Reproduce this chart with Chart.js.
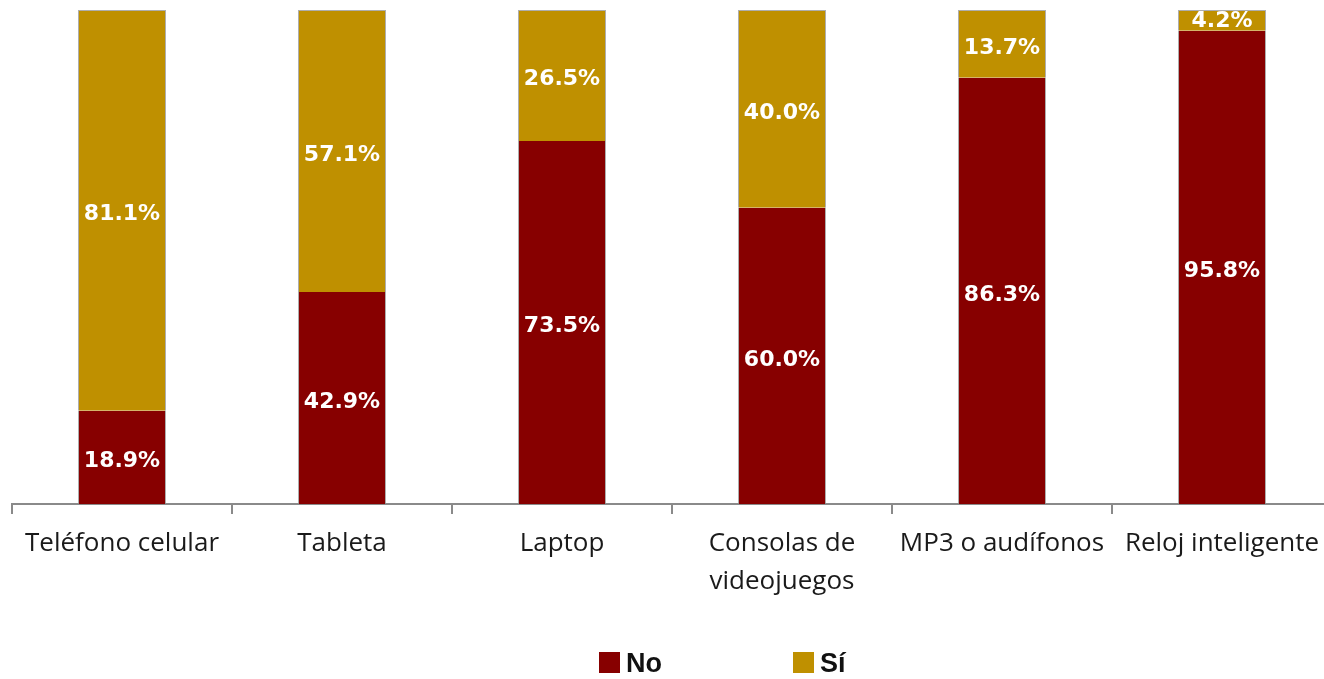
<!DOCTYPE html>
<html>
<head>
<meta charset="utf-8">
<script src="https://cdn.jsdelivr.net/npm/chart.js@4/dist/chart.umd.min.js"></script>
<style>
  html, body { margin: 0; padding: 0; background: #ffffff; overflow: hidden; width: 1324px; height: 679px; }
  #wrap { position: absolute; left: 0; top: 0; width: 1344px; height: 679px; }
  #legend { position: absolute; top: 648px; left: 599px; height: 30px; font-family: "Liberation Sans", Arial, sans-serif; font-weight: bold; font-size: 27px; color: #111; }
  .item { position: absolute; top: 0; white-space: nowrap; line-height: 30px; }
  .sw { position: absolute; top: 4px; left: 0; width: 21px; height: 21px; }
  .lt { position: absolute; left: 27px; top: 0; }
</style>
</head>
<body>
<div id="wrap"><canvas id="c"></canvas></div>
<div id="legend"></div>
<script>
const categories = ["Teléfono celular", "Tableta", "Laptop", ["Consolas de", "videojuegos"], "MP3 o audífonos", "Reloj inteligente"];
const seriesNames = ["No", "Sí"];
const noValues = [18.9, 42.9, 73.5, 60.0, 86.3, 95.8];
const siValues = [81.1, 57.1, 26.5, 40.0, 13.7, 4.2];
const colors = ["#870000", "#BF9000"];

// HTML legend
const legend = document.getElementById('legend');
const legendOffsets = [0, 194];
seriesNames.forEach((name, i) => {
  const it = document.createElement('div');
  it.className = 'item';
  it.style.left = legendOffsets[i] + 'px';
  const sw = document.createElement('div');
  sw.className = 'sw';
  sw.style.background = colors[i];
  const t = document.createElement('span');
  t.className = 'lt';
  t.textContent = name;
  it.appendChild(sw); it.appendChild(t);
  legend.appendChild(it);
});

const valueLabels = {
  id: 'valueLabels',
  afterDatasetsDraw(chart) {
    const ctx = chart.ctx;
    ctx.save();
    ctx.font = 'bold 22px "DejaVu Sans", Verdana, sans-serif';
    ctx.fillStyle = '#ffffff';
    ctx.textAlign = 'center';
    ctx.textBaseline = 'middle';
    chart.data.datasets.forEach((ds, di) => {
      const meta = chart.getDatasetMeta(di);
      meta.data.forEach((bar, i) => {
        const v = ds.data[i];
        const y = (bar.y + bar.base) / 2;
        const h = Math.abs(bar.base - bar.y);
        ctx.fillText(v.toFixed(1) + '%', bar.x, y + (h > 30 ? 4 : 1));
      });
    });
    ctx.restore();
  }
};

new Chart(document.getElementById('c'), {
  type: 'bar',
  data: {
    labels: categories,
    datasets: [
      { label: seriesNames[0], data: noValues, backgroundColor: colors[0], borderColor: 'rgba(140,140,140,0.7)', borderWidth: {left: 1, right: 1, top: 0, bottom: 0}, borderSkipped: false, barPercentage: 0.4, categoryPercentage: 1.0 },
      { label: seriesNames[1], data: siValues, backgroundColor: colors[1], borderColor: 'rgba(140,140,140,0.7)', borderWidth: {left: 1, right: 1, top: 1, bottom: 0}, borderSkipped: false, barPercentage: 0.4, categoryPercentage: 1.0 }
    ]
  },
  options: {
    responsive: true,
    maintainAspectRatio: false,
    animation: false,
    layout: { padding: { left: 12, right: 12, top: 10, bottom: 67 } },
    plugins: { legend: { display: false }, tooltip: { enabled: false } },
    scales: {
      x: {
        stacked: true,
        grid: { offset: true, drawOnChartArea: false, drawTicks: true, tickLength: 10, color: '#8a8a8a', lineWidth: 2 },
        border: { display: true, color: '#8a8a8a', width: 2 },
        ticks: { color: '#1a1a1a', padding: 11, maxRotation: 0, autoSkip: false, font: { family: '"Open Sans", sans-serif', size: 26, lineHeight: 1.46 } }
      },
      y: {
        stacked: true, display: false, min: 0, max: 100
      }
    }
  },
  plugins: [valueLabels]
});
</script>
</body>
</html>
